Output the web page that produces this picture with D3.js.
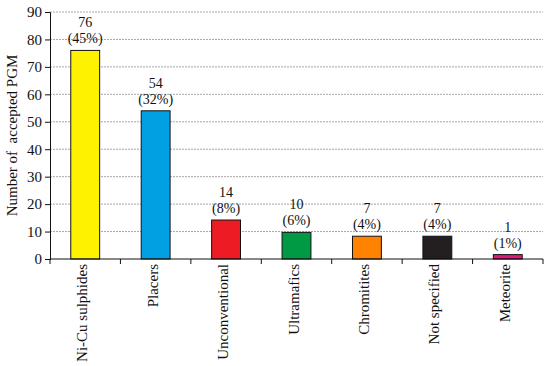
<!DOCTYPE html>
<html>
<head>
<meta charset="utf-8">
<script src="https://cdn.jsdelivr.net/npm/d3@7"></script>
<style>
    body { margin: 0; background: #fff; }
    text { font-family: "Times New Roman", "Liberation Serif", serif; fill: #111; }
</style>
</head>
<body>
<svg id="chart"></svg>
<script>
// categories and labelled counts
const categories = ["Ni-Cu sulphides", "Placers", "Unconventional", "Ultramafics", "Chromitites", "Not specified", "Meteorite"];
const counts = [76, 54, 14, 10, 7, 7, 1];
const percents = ["(45%)", "(32%)", "(8%)", "(6%)", "(4%)", "(4%)", "(1%)"];
// bar heights as drawn in the picture (small ones are a bit taller than their counts)
const barHeights = [76, 54, 14.2, 9.7, 8.3, 8.3, 1.6];
const colors = ["#fff200", "#00a0e3", "#ed1c24", "#009a44", "#ff8200", "#231f20", "#e6177c"];
const yTicks = [0, 10, 20, 30, 40, 50, 60, 70, 80, 90];

const width = 550, height = 366;
const margin = { top: 12, right: 7, bottom: 107, left: 50 };

const svg = d3.select("#chart")
    .attr("width", width)
    .attr("height", height);

const x = d3.scaleBand()
    .domain(categories)
    .range([margin.left, width - margin.right])
    .paddingInner(0.59)
    .paddingOuter(0.295);

const y = d3.scaleLinear()
    .domain([0, 90])
    .range([height - margin.bottom, margin.top]);

// gridlines
svg.append("g")
    .selectAll("line")
    .data(yTicks.slice(1))
    .enter().append("line")
    .attr("x1", margin.left)
    .attr("x2", width - margin.right)
    .attr("y1", d => y(d))
    .attr("y2", d => y(d))
    .attr("stroke", "#a6a6a6")
    .attr("stroke-width", 1)
    .attr("stroke-dasharray", "2,1");

// bars
svg.append("g")
    .selectAll("rect")
    .data(barHeights)
    .enter().append("rect")
    .attr("x", (d, i) => x(categories[i]))
    .attr("width", x.bandwidth())
    .attr("y", d => y(d))
    .attr("height", d => y(0) - y(d))
    .attr("fill", (d, i) => colors[i])
    .attr("stroke", "#111")
    .attr("stroke-width", 1);

// value labels
const labels = svg.append("g")
    .selectAll("text")
    .data(barHeights)
    .enter().append("text")
    .attr("text-anchor", "middle")
    .style("font-size", "14px")
    .attr("x", (d, i) => x(categories[i]) + x.bandwidth() / 2)
    .attr("y", d => y(d) - 7);
labels.append("tspan")
    .attr("x", (d, i) => x(categories[i]) + x.bandwidth() / 2)
    .attr("dy", "-16")
    .text((d, i) => counts[i]);
labels.append("tspan")
    .attr("x", (d, i) => x(categories[i]) + x.bandwidth() / 2)
    .attr("dy", "16")
    .text((d, i) => percents[i]);

// y axis
const yAxis = svg.append("g")
    .attr("transform", `translate(${margin.left},0)`)
    .call(d3.axisLeft(y).tickValues(yTicks).tickSize(5).tickPadding(3));
yAxis.select(".domain").attr("stroke", "#111");
yAxis.selectAll(".tick line").attr("stroke", "#111");
yAxis.selectAll("text")
    .style("font-size", "15px")
    .style("font-family", "'Times New Roman', 'Liberation Serif', serif")
    .attr("fill", "#111");

// x axis with ticks at category boundaries
const xAxisY = y(0);
svg.append("line")
    .attr("x1", margin.left)
    .attr("x2", width - margin.right)
    .attr("y1", xAxisY)
    .attr("y2", xAxisY)
    .attr("stroke", "#111");
const step = x.step();
svg.append("g")
    .selectAll("line")
    .data(d3.range(categories.length + 1))
    .enter().append("line")
    .attr("x1", i => x(categories[0]) - x.paddingOuter() * step + i * step)
    .attr("x2", i => x(categories[0]) - x.paddingOuter() * step + i * step)
    .attr("y1", xAxisY)
    .attr("y2", xAxisY + 5)
    .attr("stroke", "#111");

// category labels (rotated)
svg.append("g")
    .selectAll("text")
    .data(categories)
    .enter().append("text")
    .attr("text-anchor", "end")
    .style("font-size", "15px")
    .attr("transform", d => `translate(${x(d) + x.bandwidth() / 2 + 2},${xAxisY + 5}) rotate(-90)`)
    .text(d => d);

// y axis title
svg.append("text")
    .attr("text-anchor", "middle")
    .style("font-size", "15px")
    .attr("transform", `translate(17,${(margin.top + xAxisY) / 2}) rotate(-90)`)
    .style("white-space", "pre")
    .text("Number of  accepted PGM");
</script>
</body>
</html>
